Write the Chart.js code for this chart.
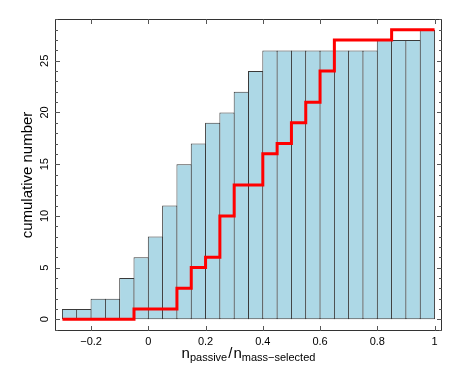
<!DOCTYPE html>
<html>
<head>
<meta charset="utf-8">
<script src="https://cdn.jsdelivr.net/npm/chart.js@4.4.1/dist/chart.umd.min.js"></script>
<style>
html,body{margin:0;padding:0;background:#fff;}
#wrap{width:460px;height:368px;}
</style>
</head>
<body>
<div id="wrap"><canvas id="c" width="460" height="368"></canvas></div>
<script>
// ---- data ----
const binStarts = [-0.30,-0.25,-0.20,-0.15,-0.10,-0.05,0.00,0.05,0.10,0.15,0.20,0.25,0.30,0.35,0.40,0.45,0.50,0.55,0.60,0.65,0.70,0.75,0.80,0.85,0.90,0.95];
const binWidth = 0.05;
const histCounts = [1,1,2,2,4,6,8,11,15,17,19,20,22,24,26,26,26,26,26,26,26,26,27,27,27,28];
const passiveCounts = [0,0,0,0,0,1,1,1,3,5,6,10,13,13,16,17,19,21,24,27,27,27,27,28,28,28];
const xTicks = [-0.2,0,0.2,0.4,0.6,0.8,1];
const xTickLabels = ['\u22120.2','0','0.2','0.4','0.6','0.8','1'];
const yTicks = [0,5,10,15,20,25];
const yTickLabels = ['0','5','10','15','20','25'];
const yMinorTicks = [-1,0,1,2,3,4,5,6,7,8,9,10,11,12,13,14,15,16,17,18,19,20,21,22,23,24,25,26,27,28,29];
const yTitle = 'cumulative number';
const xTitleParts = [['n','main'],['passive','sub'],['/','main'],['n','main'],['mass\u2212selected','sub']];

const barData = binStarts.map((s,i)=>({x:s+binWidth/2, y:histCounts[i]}));
const lineData = binStarts.map((s,i)=>({x:s, y:passiveCounts[i]}));
lineData.push({x:binStarts[binStarts.length-1]+binWidth, y:passiveCounts[passiveCounts.length-1]});

const FONT = '"Liberation Sans", Arial, Helvetica, sans-serif';

const framePlugin = {
  id:'frame',
  afterDraw(chart){
    const ctx = chart.ctx, a = chart.chartArea;
    const xs = chart.scales.x, ys = chart.scales.y;
    ctx.save();
    ctx.strokeStyle = '#333';
    ctx.lineWidth = 1;
    ctx.strokeRect(Math.round(a.left)+0.5, Math.round(a.top)+0.5, Math.round(a.right-a.left)-1, Math.round(a.bottom-a.top)-1);
    // ticks
    ctx.strokeStyle = '#555';
    ctx.beginPath();
    xTicks.forEach(v=>{
      const px = Math.round(xs.getPixelForValue(v))+0.5;
      ctx.moveTo(px, a.bottom); ctx.lineTo(px, a.bottom-5);
      ctx.moveTo(px, a.top); ctx.lineTo(px, a.top+5);
    });
    yMinorTicks.forEach(v=>{
      const py = Math.round(ys.getPixelForValue(v))+0.5;
      const len = yTicks.includes(v) ? 5 : 3;
      ctx.moveTo(a.left, py); ctx.lineTo(a.left+len, py);
      ctx.moveTo(a.right, py); ctx.lineTo(a.right-len, py);
    });
    ctx.stroke();
    // tick labels
    ctx.fillStyle = '#000';
    ctx.font = '11px ' + FONT;
    ctx.textAlign = 'center';
    ctx.textBaseline = 'alphabetic';
    xTicks.forEach((v,i)=>{
      ctx.fillText(xTickLabels[i], xs.getPixelForValue(v), 345);
    });
    yTicks.forEach((v,i)=>{
      ctx.save();
      ctx.translate(48, ys.getPixelForValue(v));
      ctx.rotate(-Math.PI/2);
      ctx.fillText(yTickLabels[i], 0, 0);
      ctx.restore();
    });
    // y title
    ctx.save();
    ctx.font = '15px ' + FONT;
    ctx.translate(32, (a.top+a.bottom)/2);
    ctx.rotate(-Math.PI/2);
    ctx.fillText(yTitle, 0, 0);
    ctx.restore();
    // x title with subscripts
    const mainF = '15px ' + FONT, subF = '11px ' + FONT;
    const gaps = [0,0,1,1,0];
    let total = 0;
    xTitleParts.forEach((p,i)=>{ ctx.font = p[1]==='main'?mainF:subF; total += ctx.measureText(p[0]).width + gaps[i]; });
    let x = (a.left+a.right)/2 - total/2;
    ctx.textAlign = 'left';
    xTitleParts.forEach((p,i)=>{
      ctx.font = p[1]==='main'?mainF:subF;
      x += gaps[i];
      ctx.fillText(p[0], x, p[1]==='main'?357.5:360.5);
      x += ctx.measureText(p[0]).width;
    });
    ctx.restore();
  }
};

new Chart(document.getElementById('c'), {
  type:'bar',
  data:{
    datasets:[
      {
        type:'line',
        data:lineData,
        stepped:'before',
        borderColor:'#ff0000',
        borderWidth:3,
        pointRadius:0,
        fill:false,
        order:0,
        borderCapStyle:'butt'
      },
      {
        type:'bar',
        data:barData,
        backgroundColor:'#add8e6',
        borderColor:'#3a3a3a',
        borderWidth:1,
        borderSkipped:false,
        barPercentage:1.07,
        categoryPercentage:1,
        grouped:false,
        order:1
      }
    ]
  },
  options:{
    responsive:false,
    animation:false,
    devicePixelRatio:1,
    layout:{padding:{left:55,right:18,top:19,bottom:37}},
    plugins:{legend:{display:false},tooltip:{enabled:false},title:{display:false}},
    scales:{
      x:{type:'linear',min:-0.326,max:1.026,offset:false,display:false},
      y:{type:'linear',min:-1.13,max:29.04,display:false}
    }
  },
  plugins:[framePlugin]
});
</script>
</body>
</html>
